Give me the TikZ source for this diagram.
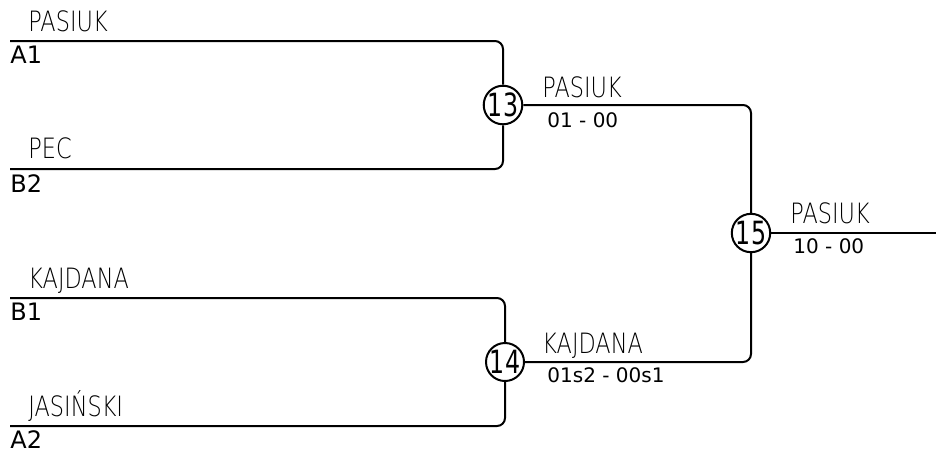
\documentclass[tikz,border=0pt]{standalone}
\usepackage{fontspec}
\setmainfont{DejaVu Sans}
\newfontfamily\namefont[FakeStretch=0.8]{DejaVu Sans ExtraLight}
\newfontfamily\gamefont[FakeStretch=0.74]{DejaVu Sans}

\tikzset{
    player/.style={anchor=base west, inner sep=0pt, font=\namefont\fontsize{14}{15}\selectfont},
    seed/.style={anchor=base west, inner sep=0pt, font=\fontsize{12}{13}\selectfont},
    score/.style={anchor=base west, inner sep=0pt, font=\fontsize{10}{11}\selectfont},
    game/.style={draw, circle, line width=1pt, minimum size=19pt, inner sep=0pt, font=\gamefont\fontsize{16}{17}\selectfont},
    wire/.style={line width=1pt, rounded corners=4pt},
}

\begin{document}
\begin{tikzpicture}[x=0.5pt,y=-0.5pt]
    \useasboundingbox (0,0) rectangle (936,452);
    % first round
    \coordinate (a1) at (10,41);
    \coordinate (b2) at (10,169);
    \coordinate (b1) at (10,298);
    \coordinate (a2) at (10,426);
    \node[player] (pa1) at (28,31) {PASIUK};
    \node[seed] (sa1) at (10,63) {A1};
    \node[player] (pb2) at (28,158) {PEC};
    \node[seed] (sb2) at (10,192) {B2};
    \node[player] (pb1) at (28,288) {KAJDANA};
    \node[seed] (sb1) at (10,320) {B1};
    \node[player] (pa2) at (28,416) {JASIŃSKI};
    \node[seed] (sa2) at (10,448) {A2};
    % games
    \node[game] (m13) at (503,105) {13};
    \node[game] (m14) at (505,362) {14};
    \node[game] (m15) at (751,233) {15};
    \coordinate (win) at (936,233);
    \draw[wire] (a1) -| (m13);
    \draw[wire] (b2) -| (m13);
    \draw[wire] (b1) -| (m14);
    \draw[wire] (a2) -| (m14);
    \draw[wire] (m13) -| (m15);
    \draw[wire] (m14) -| (m15);
    \draw[wire] (m15) -- (win);
    % winners and results
    \node[player] (w13) at (542,97) {PASIUK};
    \node[score] (r13) at (547,127) {01 - 00};
    \node[player] (w14) at (542,353) {KAJDANA};
    \node[score] (r14) at (547,382) {01s2 - 00s1};
    \node[player] (w15) at (790,223) {PASIUK};
    \node[score] (r15) at (793,253) {10 - 00};
\end{tikzpicture}
\end{document}
